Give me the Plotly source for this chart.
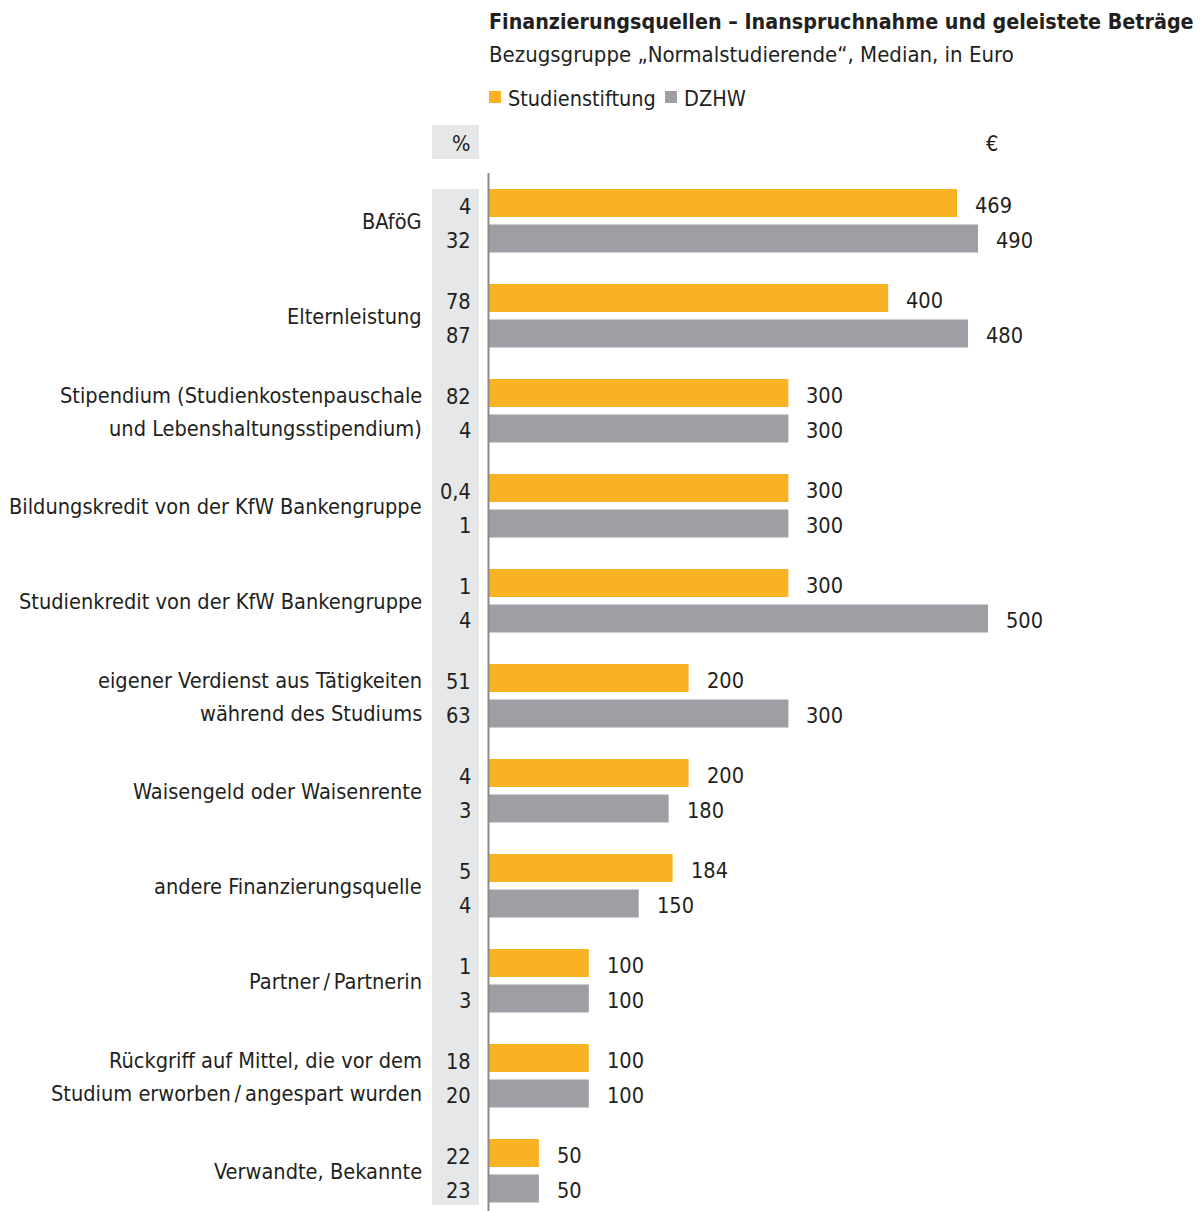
import plotly.graph_objects as go

categories = [
    "BAföG",
    "Elternleistung",
    "Stipendium (Studienkostenpauschale<br>und Lebenshaltungsstipendium)",
    "Bildungskredit von der KfW Bankengruppe",
    "Studienkredit von der KfW Bankengruppe",
    "eigener Verdienst aus Tätigkeiten<br>während des Studiums",
    "Waisengeld oder Waisenrente",
    "andere Finanzierungsquelle",
    "Partner\u2009/\u2009Partnerin",
    "Rückgriff auf Mittel, die vor dem<br>Studium erworben\u2009/\u2009angespart wurden",
    "Verwandte, Bekannte",
]
stud_euro = [469, 400, 300, 300, 300, 200, 200, 184, 100, 100, 50]
dzhw_euro = [490, 480, 300, 300, 500, 300, 180, 150, 100, 100, 50]
stud_pct = ["4", "78", "82", "0,4", "1", "51", "4", "5", "1", "18", "22"]
dzhw_pct = ["32", "87", "4", "1", "4", "63", "3", "4", "3", "20", "23"]

ORANGE = "#F9B223"
GRAY = "#9D9FA4"
TXT = "#231F20"
FONT = "DejaVu Sans Condensed, Liberation Sans Narrow, Arial Narrow, sans-serif"

W, H = 1202, 1211
PITCH = 95.0
Y0 = 203.0  # pixel center of first orange bar
OFF = 35.5 / PITCH
BW = 28.0 / PITCH

n = len(categories)
y_stud = [i for i in range(n)]
y_dzhw = [i + OFF for i in range(n)]

fig = go.Figure()
fig.add_trace(go.Bar(x=stud_euro, y=y_stud, orientation="h", width=BW,
                     marker=dict(color=ORANGE, line=dict(width=0)), name="Studienstiftung",
                     showlegend=False))
fig.add_trace(go.Bar(x=dzhw_euro, y=y_dzhw, orientation="h", width=BW,
                     marker=dict(color=GRAY, line=dict(width=0)), name="DZHW",
                     showlegend=False))

ann = []
shapes = []
xp = lambda px: px / W
yp = lambda py: 1 - py / H

shapes.append(dict(type="rect", xref="paper", yref="paper", x0=xp(432), x1=xp(479),
                   y0=yp(1205), y1=yp(189), fillcolor="#E6E7E8", line=dict(width=0), layer="below"))
shapes.append(dict(type="rect", xref="paper", yref="paper", x0=xp(432), x1=xp(479),
                   y0=yp(159), y1=yp(125), fillcolor="#E6E7E8", line=dict(width=0), layer="below"))
shapes.append(dict(type="line", xref="paper", yref="paper", x0=xp(488.5), x1=xp(488.5),
                   y0=yp(1211), y1=yp(173), line=dict(color="#8C8C8C", width=2)))
shapes.append(dict(type="rect", xref="paper", yref="paper", x0=xp(489), x1=xp(501),
                   y0=yp(103), y1=yp(91), fillcolor=ORANGE, line=dict(width=0)))
shapes.append(dict(type="rect", xref="paper", yref="paper", x0=xp(665), x1=xp(677),
                   y0=yp(103), y1=yp(91), fillcolor=GRAY, line=dict(width=0)))

fs = 21.6
ann.append(dict(text="<b>Finanzierungsquellen – Inanspruchnahme und geleistete Beträge</b>",
                xref="paper", yref="paper", x=xp(487), y=yp(22), xanchor="left", yanchor="middle",
                showarrow=False, font=dict(size=21.3, color=TXT, family=FONT)))
ann.append(dict(text="Bezugsgruppe „Normalstudierende“, Median, in Euro",
                xref="paper", yref="paper", x=xp(487), y=yp(55), xanchor="left", yanchor="middle",
                showarrow=False, font=dict(size=22, color=TXT, family=FONT)))
ann.append(dict(text="Studienstiftung", xref="paper", yref="paper", x=xp(506), y=yp(99),
                xanchor="left", yanchor="middle", showarrow=False,
                font=dict(size=21.5, color=TXT, family=FONT)))
ann.append(dict(text="DZHW", xref="paper", yref="paper", x=xp(682), y=yp(99),
                xanchor="left", yanchor="middle", showarrow=False,
                font=dict(size=21.5, color=TXT, family=FONT)))
ann.append(dict(text="%", xref="paper", yref="paper", x=xp(461), y=yp(143),
                xanchor="center", yanchor="middle", showarrow=False,
                font=dict(size=fs, color=TXT, family=FONT)))
ann.append(dict(text="€", xref="paper", yref="paper", x=xp(992), y=yp(143),
                xanchor="center", yanchor="middle", showarrow=False,
                font=dict(size=fs, color=TXT, family=FONT)))

YS = -3
LINE = 33
for i in range(n):
    lines = categories[i].split("<br>")
    k = len(lines)
    for j, ln in enumerate(lines):
        shift = -((j - (k - 1) / 2) * LINE) - 1
        ann.append(dict(text=ln, xref="paper", yref="y", x=xp(424), y=i + OFF / 2,
                        xanchor="right", yanchor="middle", align="right", showarrow=False,
                        yshift=shift, font=dict(size=fs, color=TXT, family=FONT)))
    ann.append(dict(text=stud_pct[i], xref="paper", yref="y", x=xp(473), y=y_stud[i],
                    xanchor="right", yanchor="middle", showarrow=False, yshift=YS,
                    font=dict(size=fs, color=TXT, family=FONT)))
    ann.append(dict(text=dzhw_pct[i], xref="paper", yref="y", x=xp(473), y=y_dzhw[i],
                    xanchor="right", yanchor="middle", showarrow=False, yshift=YS + 1,
                    font=dict(size=fs, color=TXT, family=FONT)))
    ann.append(dict(text=str(stud_euro[i]), xref="x", yref="y", x=stud_euro[i], y=y_stud[i],
                    xanchor="left", yanchor="middle", xshift=16, yshift=YS + 1, showarrow=False,
                    font=dict(size=fs, color=TXT, family=FONT)))
    ann.append(dict(text=str(dzhw_euro[i]), xref="x", yref="y", x=dzhw_euro[i], y=y_dzhw[i],
                    xanchor="left", yanchor="middle", xshift=16, yshift=YS + 1, showarrow=False,
                    font=dict(size=fs, color=TXT, family=FONT)))

x_lo = 489.0
scale = (988.0 - 489.0) / 500.0
fig.update_layout(
    width=W, height=H,
    margin=dict(l=0, r=0, t=0, b=0),
    paper_bgcolor="white", plot_bgcolor="white",
    barmode="overlay",
    xaxis=dict(domain=[x_lo / W, 1], range=[0, (W - x_lo) / scale], visible=False, fixedrange=True),
    yaxis=dict(domain=[0, 1], range=[(H - Y0) / PITCH, -Y0 / PITCH], visible=False, fixedrange=True),
    shapes=shapes,
    annotations=ann,
    showlegend=False,
)

fig.write_html("out.html")
